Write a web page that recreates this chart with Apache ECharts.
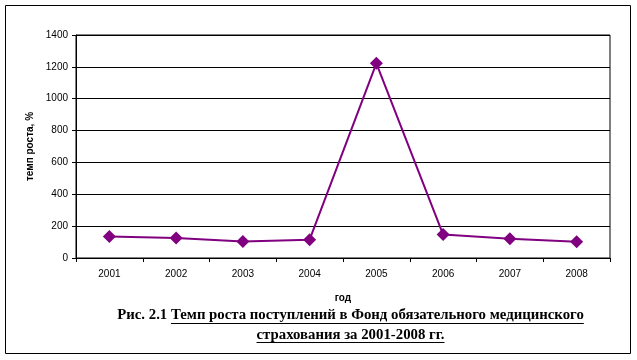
<!DOCTYPE html>
<html><head><meta charset="utf-8">
<script src="https://cdn.jsdelivr.net/npm/echarts@6/dist/echarts.min.js"></script>
<style>html,body{margin:0;padding:0;background:#fff}#c{width:637px;height:360px}</style>
</head><body><div id="c"></div>
<script>
const categories = ['2001','2002','2003','2004','2005','2006','2007','2008'];
const growthRate = [135, 126, 104, 115, 1222, 147, 121, 102];
const yTicks = [0, 200, 400, 600, 800, 1000, 1200, 1400];
const yAxisTitle = 'темп роста, %';
const xAxisTitle = 'год';
const captionPrefix = 'Рис. 2.1 ';
const captionLine1 = 'Темп роста поступлений в Фонд обязательного медицинского';
const captionLine2 = 'страхования за 2001-2008 гг.';

const chart = echarts.init(document.getElementById('c'), null, {renderer:'canvas'});
const serif = '"Liberation Serif","Times New Roman",serif';
const sans = '"Liberation Sans",Arial,sans-serif';
const font = 'bold 14.8px ' + serif;
function measure(t){const c=document.createElement('canvas').getContext('2d');c.font=font;return c.measureText(t).width;}
const wp = measure(captionPrefix), w1 = measure(captionLine1), w2 = measure(captionLine2);
const cx = 350.5;
const x1 = cx - (wp + w1)/2;
const x2 = cx - w2/2;

chart.setOption({
  animation:false,
  backgroundColor:'#fff',
  grid:{left:76, right:27, top:35, bottom:102, show:true, borderColor:'#000', borderWidth:1},
  xAxis:{type:'category', data:categories, boundaryGap:true,
    axisLine:{lineStyle:{color:'#000', width:1}},
    axisTick:{show:true, alignWithLabel:false, length:4, lineStyle:{color:'#000'}},
    axisLabel:{color:'#000', fontFamily:sans, fontSize:10, margin:11},
    name:xAxisTitle, nameLocation:'middle', nameGap:35,
    nameTextStyle:{color:'#000', fontFamily:sans, fontSize:10, fontWeight:'bold'}},
  yAxis:{type:'value', min:yTicks[0], max:yTicks[yTicks.length-1], interval:yTicks[1]-yTicks[0],
    axisLine:{show:true, lineStyle:{color:'#000'}},
    axisTick:{show:true, length:4, lineStyle:{color:'#000'}},
    splitLine:{lineStyle:{color:'#000', width:1}},
    axisLabel:{color:'#000', fontFamily:sans, fontSize:10, margin:8, formatter:v=>String(v)},
    name:yAxisTitle, nameLocation:'middle', nameGap:28, nameRotate:90,
    nameTextStyle:{color:'#000', fontFamily:sans, fontSize:10, fontWeight:'bold'}},
  series:[{type:'line', data:growthRate, symbol:'diamond', symbolSize:13,
    itemStyle:{color:'#800080'}, lineStyle:{color:'#800080', width:2}}],
  graphic:[
    {type:'rect', shape:{x:5.5, y:5.5, width:625, height:348}, style:{fill:null, stroke:'#000', lineWidth:1}, z:-1},
    {type:'text', left:x1, top:308, style:{text:captionPrefix + captionLine1, font:font, fill:'#000'}},
    {type:'line', shape:{x1:x1+wp, y1:323.5, x2:x1+wp+w1, y2:323.5}, style:{stroke:'#000', lineWidth:1}},
    {type:'text', left:x2, top:328, style:{text:captionLine2, font:font, fill:'#000'}},
    {type:'line', shape:{x1:x2, y1:342.5, x2:x2+w2, y2:342.5}, style:{stroke:'#000', lineWidth:1}}
  ]
});
</script></body></html>
